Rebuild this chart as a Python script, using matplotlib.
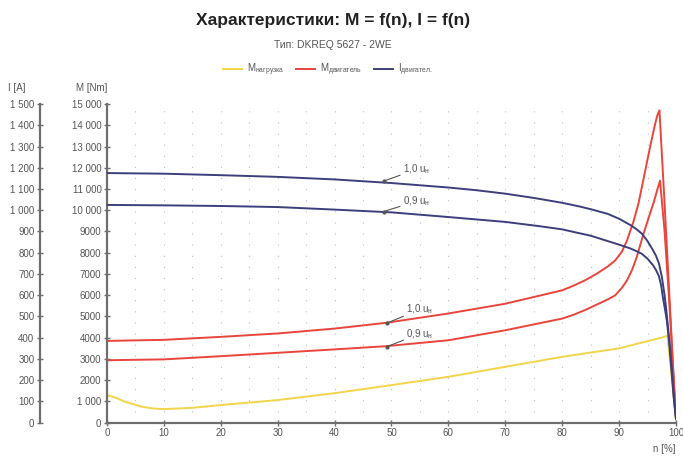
import matplotlib.pyplot as plt

plt.rcParams['font.family'] = ['Liberation Sans', 'DejaVu Sans']
plt.rcParams['mathtext.default'] = 'regular'

# speed n [%] and curve values
n_i10 = [0, 10, 20, 30, 40, 50, 60, 65, 70, 75, 80, 83, 85, 88, 90, 92, 93, 94, 95, 96, 96.5, 97, 97.5,
         98, 98.3, 98.6, 99, 99.4, 99.7, 100]
i_10 = [1175, 1172, 1165, 1157, 1145, 1128, 1107, 1094, 1078, 1058, 1035, 1018, 1005, 983, 960, 930, 912,
        890, 855, 810, 785, 750, 690, 600, 530, 450, 340, 210, 100, 20]

n_i09 = [0, 10, 20, 30, 40, 50, 60, 70, 76, 80, 85, 88, 90, 92, 93, 94, 95, 96, 96.5, 97, 97.4, 97.7,
         98, 98.4, 98.8, 99.2, 99.6, 100]
i_09 = [1025, 1023, 1020, 1015, 1003, 990, 968, 945, 925, 910, 880, 855, 838, 820, 808, 795, 772, 740,
        718, 690, 645, 590, 545, 480, 380, 250, 120, 20]

n_m10 = [0, 10, 20, 30, 40, 49, 60, 70, 80, 82, 84, 86, 88, 89.3, 90.5, 91.4, 92.5, 93.4, 94.3, 95.5,
         96.2, 96.7, 97.1, 98.0, 98.8, 99.5, 100]
m_10 = [3850, 3900, 4040, 4200, 4430, 4700, 5140, 5600, 6230, 6450, 6700, 7000, 7350, 7630, 8050, 8580,
        9440, 10300, 11470, 13040, 13900, 14450, 14700, 10300, 6200, 2600, 200]

n_m09 = [0, 10, 20, 30, 40, 49, 60, 70, 80, 82, 84, 86, 88, 89.3, 90.5, 91.4, 92.3, 93.1, 94.3, 95.2,
         96.1, 96.7, 97.2, 98.0, 98.8, 99.5, 100]
m_09 = [2940, 2980, 3130, 3290, 3450, 3600, 3880, 4350, 4900, 5080, 5300, 5550, 5800, 5990, 6350, 6700,
        7200, 7790, 8890, 9650, 10380, 10950, 11390, 9000, 5800, 2500, 200]

n_load = [0, 1.5, 3, 4.5, 6, 8, 10, 15, 20, 30, 40, 50, 60, 70, 80, 90, 97.7, 98.5, 99.3, 100]
m_load = [1300, 1180, 1000, 880, 760, 670, 640, 700, 830, 1065, 1390, 1770, 2160, 2630, 3100, 3500,
          4020, 4100, 2000, 100]

m_ticks = list(range(0, 15001, 1000))
m_labels = ['0', '1 000', '2000', '3000', '4000', '5000', '6000', '7000', '8000', '9000',
            '10 000', '11 000', '12 000', '13 000', '14 000', '15 000']
i_ticks = list(range(0, 1501, 100))
i_labels = ['0', '100', '200', '300', '400', '500', '600', '700', '800', '900',
            '1 000', '1 100', '1 200', '1 300', '1 400', '1 500']

c_yel = '#f2d54a'
c_red = '#e8453c'
c_blue = '#3d3f7c'
c_axis = '#6e6e6e'
c_txt = '#555555'

fig = plt.figure(figsize=(6.83, 4.59), dpi=100)
ax = fig.add_axes([0.1567, 0.0791, 0.833, 0.6943])
ax2 = ax.twinx()

ax.plot(n_load, m_load, color=c_yel, lw=1.4, label='M$_{нагрузка}$')
ax.plot(n_m10, m_10, color=c_red, lw=1.4, label='M$_{двигатель}$')
ax.plot(n_m09, m_09, color=c_red, lw=1.4)
ax2.plot(n_i10, i_10, color=c_blue, lw=1.4, label='I$_{двигател.}$')
ax2.plot(n_i09, i_09, color=c_blue, lw=1.4)

ax.set_xlim(0, 100)
ax.set_ylim(0, 15000)
ax2.set_ylim(0, 1500)

# dotted grid
for x in range(5, 100, 5):
    ax.axvline(x, color='#bdbdbd', lw=0.8, ls=(0, (1, 9)), zorder=0)

for a in (ax, ax2):
    for s in ('top', 'right'):
        a.spines[s].set_visible(False)
ax2.spines['bottom'].set_visible(False)
ax.spines['left'].set_color(c_axis)
ax.spines['left'].set_linewidth(1.6)
ax.spines['bottom'].set_color(c_axis)
ax.spines['bottom'].set_linewidth(1.6)
ax2.spines['left'].set_visible(True)
ax2.spines['left'].set_position(('axes', -0.118))
ax2.spines['left'].set_color(c_axis)
ax2.spines['left'].set_linewidth(1.6)
ax2.yaxis.set_ticks_position('left')
ax2.yaxis.set_label_position('left')

ax.set_yticks(m_ticks)
ax.set_yticklabels(m_labels)
ax2.set_yticks(i_ticks)
ax2.set_yticklabels(i_labels)
ax.set_xticks(range(0, 101, 10))
for a in (ax, ax2):
    a.tick_params(axis='both', direction='inout', length=4, width=1, color=c_axis,
                  labelsize=7, labelcolor=c_txt, pad=2)

# voltage annotations
ann = [(ax2, 48.6, 1137, 1192, '1,0 u$_н$'),
       (ax2, 48.6, 994, 1042, '0,9 u$_н$'),
       (ax, 49.2, 4690, 5320, '1,0 u$_н$'),
       (ax, 49.2, 3580, 4180, '0,9 u$_н$')]
for a, xn, yv, yt, txt in ann:
    a.annotate(txt, xy=(xn, yv), xytext=(xn + 3.4, yt), fontsize=7, color=c_txt,
               va='center', ha='left',
               arrowprops=dict(arrowstyle='-', color='#555555', lw=0.8, shrinkA=0, shrinkB=0))
    a.plot([xn], [yv], marker='o', ms=2, color='#555555')

fig.text(0.487, 0.956, 'Характеристики: M = f(n), I = f(n)', ha='center', va='center',
         fontsize=12.5, fontweight='bold', color='#222222',
         family=['Liberation Sans Narrow', 'Liberation Sans', 'DejaVu Sans'])
fig.text(0.487, 0.902, 'Тип: DKREQ 5627 - 2WE', ha='center', va='center', fontsize=7.5, color=c_txt)
fig.text(0.012, 0.808, 'I [A]', fontsize=7, color=c_txt, va='center')
fig.text(0.112, 0.808, 'M [Nm]', fontsize=7, color=c_txt, va='center')
fig.text(0.972, 0.022, 'n [%]', fontsize=7, color=c_txt, ha='center', va='center')

h1, l1 = ax.get_legend_handles_labels()
h2, l2 = ax2.get_legend_handles_labels()
fig.legend(h1 + h2, l1 + l2, loc='center', bbox_to_anchor=(0.48, 0.847), ncol=3, frameon=False,
           fontsize=7, labelcolor=c_txt, handlelength=2, columnspacing=1.2, handletextpad=0.5)

fig.savefig('out.png', dpi=100)
